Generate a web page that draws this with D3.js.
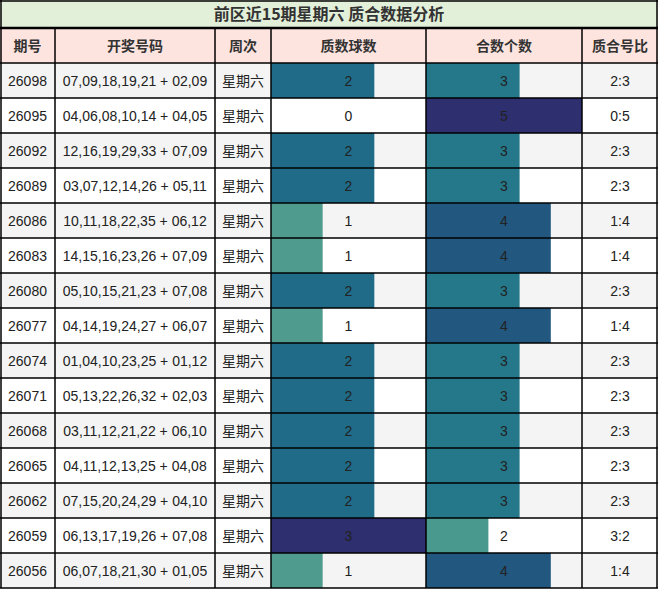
<!DOCTYPE html>
<html><head><meta charset="utf-8">
<script src="https://cdn.jsdelivr.net/npm/d3@7"></script>
<style>body{margin:0;background:#fff}</style>
</head><body>
<svg id="c" width="658" height="589"></svg>
<script>
var title = '前区近15期星期六 质合数据分析';
var headers = ['期号', '开奖号码', '周次', '质数球数', '合数个数', '质合号比'];
var issues = ['26098','26095','26092','26089','26086','26083','26080','26077','26074','26071','26068','26065','26062','26059','26056'];
var draws = ['07,09,18,19,21 + 02,09','04,06,08,10,14 + 04,05','12,16,19,29,33 + 07,09','03,07,12,14,26 + 05,11',
  '10,11,18,22,35 + 06,12','14,15,16,23,26 + 07,09','05,10,15,21,23 + 07,08','04,14,19,24,27 + 06,07',
  '01,04,10,23,25 + 01,12','05,13,22,26,32 + 02,03','03,11,12,21,22 + 06,10','04,11,12,13,25 + 04,08',
  '07,15,20,24,29 + 04,10','06,13,17,19,26 + 07,08','06,07,18,21,30 + 01,05'];
var primes = [2,0,2,2,1,1,2,1,2,2,2,2,2,3,1];
var composites = [3,5,3,3,4,4,3,4,3,3,3,3,3,2,4];

var svg = d3.select('#c');
var font = '"Liberation Sans", "Noto Sans CJK SC", sans-serif';
var cols = [0, 55, 215, 271, 426, 582, 658];
var titleH = 28, headH = 35, rowH = 35;
var y = d3.scaleBand().domain(d3.range(issues.length)).range([titleH + headH, titleH + headH + rowH * issues.length]);

var pColor = d3.scaleOrdinal().domain([1,2,3]).range(['#4f9c8e','#1f6b88','#2e2f6e']);
var cColor = d3.scaleOrdinal().domain([2,3,4,5]).range(['#4a998e','#25778a','#22577f','#2e2f6e']);
var px = d3.scaleLinear().domain([0,3]).range([0, cols[4]-cols[3]]);
var cx = d3.scaleLinear().domain([0,5]).range([0, cols[5]-cols[4]]);

// title
svg.append('rect').attr('x',0).attr('y',0).attr('width',658).attr('height',titleH).attr('fill','#e2efd9');
svg.append('text').attr('x',329).attr('y',20).attr('text-anchor','middle').attr('font-family','"Noto Sans CJK SC", sans-serif')
  .attr('font-size',16).attr('font-weight','bold').attr('fill','#333').text(title);

// header
svg.append('rect').attr('x',0).attr('y',titleH).attr('width',658).attr('height',headH).attr('fill','#fde4df');
headers.forEach(function(h,i){
  svg.append('text').attr('x',(cols[i]+cols[i+1])/2).attr('y',titleH+headH/2+5).attr('text-anchor','middle')
    .attr('font-family','"Noto Sans CJK SC", sans-serif').attr('font-size',14).attr('font-weight','bold').attr('fill','#333').text(h);
});

var rows = svg.selectAll('g.row').data(issues).enter().append('g').attr('class','row')
  .attr('transform', function(d,i){ return 'translate(0,' + y(i) + ')'; });
rows.append('rect').attr('width',658).attr('height',rowH).attr('fill', function(d,i){ return i%2==0 ? '#f4f4f4' : '#fff'; });
rows.append('rect').attr('x',cols[3]).attr('height',rowH).attr('width', function(d,i){ return px(primes[i]); })
  .attr('fill', function(d,i){ return primes[i] ? pColor(primes[i]) : 'none'; });
rows.append('rect').attr('x',cols[4]).attr('height',rowH).attr('width', function(d,i){ return cx(composites[i]); })
  .attr('fill', function(d,i){ return cColor(composites[i]); });

function cellText(col, fn){
  rows.append('text').attr('x',(cols[col]+cols[col+1])/2).attr('y',rowH/2+5).attr('text-anchor','middle')
    .attr('font-family',font).attr('font-size',14).attr('fill','#222').text(fn);
}
cellText(0, function(d){ return d; });
cellText(1, function(d,i){ return draws[i]; });
cellText(2, function(){ return '星期六'; });
cellText(3, function(d,i){ return primes[i]; });
cellText(4, function(d,i){ return composites[i]; });
cellText(5, function(d,i){ return primes[i] + ':' + composites[i]; });
rows.selectAll('text').filter(function(){ return this.textContent == '星期六'; }).attr('font-family','"Noto Sans CJK SC", sans-serif');

// grid
var bottom = y.range()[1];
cols.forEach(function(c){
  var xx = Math.min(Math.max(c, 1), 657);
  svg.append('line').attr('x1',xx).attr('x2',xx).attr('y1',titleH).attr('y2',bottom).attr('stroke','#000').attr('stroke-width',1.5);
});
svg.append('line').attr('x1',1).attr('x2',1).attr('y1',0).attr('y2',titleH).attr('stroke','#000').attr('stroke-width',1.5);
svg.append('line').attr('x1',657).attr('x2',657).attr('y1',0).attr('y2',titleH).attr('stroke','#000').attr('stroke-width',1.5);
d3.range(issues.length+2).forEach(function(k){
  var yy = titleH + k*rowH;
  svg.append('line').attr('x1',0).attr('x2',658).attr('y1',Math.min(yy,588)).attr('y2',Math.min(yy,588))
    .attr('stroke','#000').attr('stroke-width', k==0 ? 2.5 : 1.5);
});
svg.append('line').attr('x1',0).attr('x2',658).attr('y1',1).attr('y2',1).attr('stroke','#000').attr('stroke-width',1.5);
</script>
</body></html>
